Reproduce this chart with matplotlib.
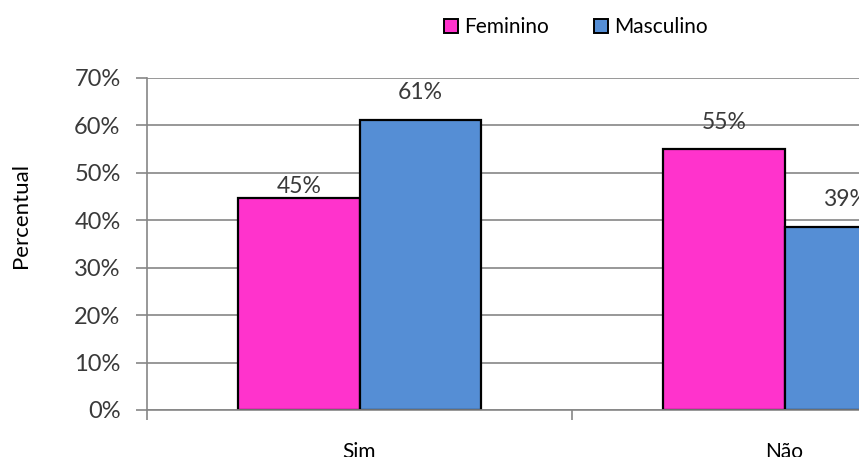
import matplotlib
matplotlib.use("Agg")
import matplotlib.pyplot as plt
from matplotlib.patches import Patch
import numpy as np

# chart data
categories = ["Sim", "Não"]
feminino = [44.7, 55.0]
masculino = [61.2, 38.6]
series_names = ["Feminino", "Masculino"]
y_ticks = [0, 10, 20, 30, 40, 50, 60, 70]

plt.rcParams['font.family'] = ['Lato', 'DejaVu Sans']

fig = plt.figure(figsize=(8.59, 4.57), dpi=100)
ax = fig.add_axes([147 / 859, 47 / 457, 850 / 859, 332 / 457])

x = np.arange(len(categories))
w = 0.285
pink = '#FF33CC'
blue = '#558ED5'
grid_c = '#868686'
text_c = '#3a3a3a'

ax.set_axisbelow(True)
ax.yaxis.grid(True, color=grid_c, linewidth=1.2)
b1 = ax.bar(x - w / 2, feminino, w, color=pink, edgecolor='black', linewidth=1.6)
b2 = ax.bar(x + w / 2, masculino, w, color=blue, edgecolor='black', linewidth=1.6)

# value labels (the first one sits closer to its bar in the original)
fem_offsets = [8.5, 19.5]
mas_offsets = [19.5, 19.5]
for bars, vals, offs in ((b1, feminino, fem_offsets), (b2, masculino, mas_offsets)):
    for rect, v, off in zip(bars, vals, offs):
        ax.annotate(f"{v:.0f}%", (rect.get_x() + rect.get_width() / 2, v),
                    xytext=(0, off), textcoords='offset points',
                    ha='center', va='center', fontsize=16.5, color=text_c)

ax.set_xlim(-0.5, 1.5)
ax.set_ylim(0, 70)
ax.set_yticks(y_ticks)
ax.set_yticklabels([f"{t}%" for t in y_ticks], fontsize=17, color=text_c)
ax.tick_params(axis='y', length=8, width=1.2, color=grid_c, pad=11)

ax.set_xticks(x)
ax.set_xticklabels(categories, fontsize=15, color='black', va='top')
ax.tick_params(axis='x', which='major', length=0, pad=23)
ax.set_xticks([-0.5, 0.5, 1.5], minor=True)
ax.tick_params(axis='x', which='minor', length=7, width=1.2, color=grid_c)

for side in ('top', 'right'):
    ax.spines[side].set_visible(False)
for side in ('left', 'bottom'):
    ax.spines[side].set_color(grid_c)
    ax.spines[side].set_linewidth(1.2)

ax.set_ylabel("Percentual", fontsize=16, color='black')
ax.yaxis.set_label_coords(-116 / 850, (410 - 215) / 332)

handles = [Patch(facecolor=pink, edgecolor='black', linewidth=1.4),
           Patch(facecolor=blue, edgecolor='black', linewidth=1.4)]
fig.legend(handles, series_names, loc='center', bbox_to_anchor=(576 / 859, 1 - 27 / 457),
           ncol=2, frameon=False, fontsize=15, handlelength=0.65, handleheight=0.65,
           handletextpad=0.3, columnspacing=2.2)

fig.savefig("out.png", dpi=100)
